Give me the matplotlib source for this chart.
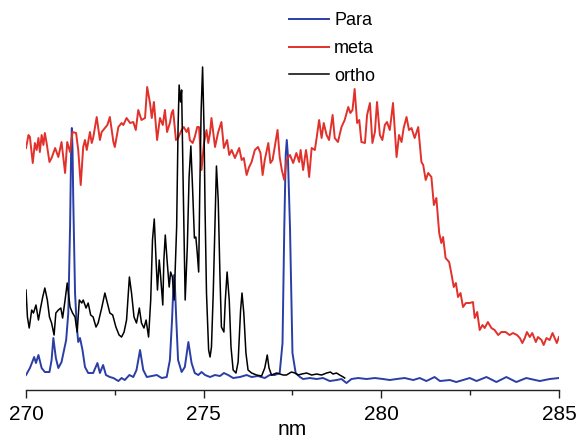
import numpy as np
import matplotlib
matplotlib.use('Agg')
import matplotlib.pyplot as plt
from matplotlib.ticker import MultipleLocator

plt.rcParams['font.family'] = ['Liberation Sans', 'DejaVu Sans']

# wavelength (nm) / intensity (a.u.)
para_nm = [270.00, 270.11, 270.23, 270.28, 270.35, 270.44, 270.53, 270.66, 270.72, 270.77, 270.84,
           270.91, 271.00, 271.13, 271.19, 271.24, 271.27, 271.29, 271.31, 271.33, 271.38, 271.43, 271.47,
           271.52, 271.59, 271.66, 271.75, 271.89, 272.01, 272.08, 272.17, 272.25, 272.36,
           272.46, 272.60, 272.69, 272.78, 272.91, 273.02, 273.11, 273.21, 273.30, 273.40,
           273.54, 273.68, 273.82, 273.96, 274.05, 274.11, 274.15, 274.17, 274.19, 274.23, 274.28, 274.38,
           274.47, 274.57, 274.66, 274.75, 274.85, 274.94, 275.04, 275.18, 275.32, 275.46,
           275.57, 275.69, 275.83, 276.02, 276.21, 276.35, 276.53, 276.72, 276.86, 277.00,
           277.14, 277.22, 277.27, 277.31, 277.34, 277.37, 277.43, 277.50, 277.59, 277.71, 277.80, 277.99,
           278.18, 278.36, 278.55, 278.74, 278.88, 279.02, 279.16, 279.35, 279.58, 279.82,
           280.05, 280.24, 280.43, 280.66, 280.90, 281.08, 281.27, 281.50, 281.65, 281.93,
           282.11, 282.49, 282.68, 282.96, 283.24, 283.52, 283.80, 284.08, 284.46, 284.74,
           285.00]
para_int = [15, 22, 33, 27, 35, 22, 18, 18, 30, 52, 32,
            22, 28, 50, 77, 163, 240, 262, 240, 190, 97, 63, 48,
            52, 40, 23, 17, 17, 27, 17, 25, 15, 13,
            12, 9, 12, 10, 15, 13, 20, 40, 20, 13,
            14, 15, 12, 13, 30, 70, 105, 115, 105, 70, 30, 18,
            23, 48, 27, 17, 15, 18, 15, 13, 15, 14,
            17, 15, 12, 13, 15, 13, 14, 12, 15, 15,
            17, 47, 163, 235, 250, 235, 163, 37, 17, 13, 11, 12,
            11, 12, 9, 10, 11, 7, 11, 12, 11, 12,
            11, 10, 11, 12, 10, 12, 9, 13, 9, 10,
            8, 12, 9, 13, 8, 13, 8, 12, 9, 11,
            12]

meta_nm = [270.00, 270.07, 270.11, 270.19, 270.25, 270.30, 270.35, 270.39, 270.44, 270.49,
           270.53, 270.58, 270.66, 270.72, 270.82, 270.91, 271.00, 271.10, 271.16, 271.24,
           271.31, 271.41, 271.47, 271.54, 271.61, 271.66, 271.71, 271.80, 271.85, 271.89,
           271.99, 272.08, 272.13, 272.22, 272.29, 272.36, 272.46, 272.50, 272.60, 272.69,
           272.74, 272.83, 272.93, 273.02, 273.09, 273.16, 273.25, 273.35, 273.41, 273.49,
           273.54, 273.60, 273.69, 273.77, 273.85, 273.91, 273.97, 274.05, 274.10, 274.14,
           274.22, 274.28, 274.38, 274.44, 274.52, 274.57, 274.61, 274.69, 274.75, 274.82,
           274.87, 274.94, 275.01, 275.08, 275.13, 275.18, 275.22, 275.32, 275.41, 275.50,
           275.57, 275.66, 275.72, 275.79, 275.88, 275.94, 276.00, 276.07, 276.13, 276.21,
           276.28, 276.35, 276.44, 276.53, 276.60, 276.66, 276.72, 276.82, 276.88, 276.94,
           277.00, 277.08, 277.14, 277.20, 277.27, 277.33, 277.43, 277.52, 277.61, 277.69,
           277.73, 277.80, 277.88, 277.91, 277.97, 278.04, 278.13, 278.18, 278.25, 278.32,
           278.38, 278.46, 278.53, 278.63, 278.69, 278.78, 278.88, 278.97, 279.07, 279.13,
           279.19, 279.25, 279.32, 279.38, 279.44, 279.54, 279.60, 279.68, 279.75, 279.82,
           279.88, 279.96, 280.03, 280.10, 280.16, 280.24, 280.33, 280.43, 280.50, 280.57,
           280.63, 280.71, 280.78, 280.85, 280.94, 281.04, 281.13, 281.18, 281.25, 281.32,
           281.41, 281.48, 281.55, 281.63, 281.69, 281.74, 281.81, 281.91, 281.97, 282.04,
           282.10, 282.16, 282.23, 282.30, 282.38, 282.49, 282.58, 282.63, 282.70, 282.77,
           282.85, 282.91, 283.00, 283.10, 283.19, 283.29, 283.38, 283.50, 283.61, 283.71,
           283.82, 283.90, 283.97, 284.04, 284.10, 284.18, 284.25, 284.35, 284.41, 284.51,
           284.57, 284.65, 284.74, 284.82, 284.88, 284.94, 285.00]
meta_int = [242, 255, 253, 227, 247, 240, 252, 238, 255, 245,
            257, 247, 228, 232, 242, 233, 248, 217, 248, 238,
            258, 257, 240, 205, 243, 250, 240, 258, 247, 252,
            273, 250, 258, 262, 265, 273, 248, 243, 263, 267,
            265, 272, 267, 268, 260, 280, 270, 272, 303, 287,
            272, 288, 250, 272, 265, 280, 258, 267, 277, 280,
            250, 252, 260, 263, 258, 262, 250, 247, 253, 263,
            263, 220, 247, 260, 247, 257, 272, 243, 258, 268,
            242, 250, 235, 240, 232, 237, 242, 230, 232, 215,
            223, 228, 240, 243, 237, 215, 230, 247, 227, 230,
            243, 260, 233, 220, 210, 230, 235, 227, 237, 228,
            240, 220, 240, 233, 213, 242, 240, 252, 270, 252,
            267, 255, 250, 275, 252, 248, 263, 270, 283, 277,
            280, 301, 267, 270, 248, 247, 275, 287, 247, 258,
            288, 255, 250, 265, 268, 260, 287, 233, 255, 248,
            262, 273, 260, 262, 252, 263, 228, 225, 210, 217,
            213, 185, 192, 157, 147, 153, 132, 128, 117, 103,
            107, 93, 97, 83, 87, 87, 88, 72, 78, 60,
            65, 62, 68, 62, 60, 55, 58, 58, 55, 57,
            55, 52, 47, 52, 58, 53, 57, 48, 53, 50,
            45, 52, 50, 57, 52, 47, 53]

ortho_nm = [270.00, 270.04, 270.09, 270.16, 270.21, 270.28, 270.35, 270.41, 270.47, 270.53,
            270.60, 270.66, 270.72, 270.79, 270.84, 270.91, 270.98, 271.03, 271.10, 271.16,
            271.24, 271.31, 271.38, 271.44, 271.50, 271.57, 271.61, 271.69, 271.75, 271.82,
            271.89, 271.97, 272.03, 272.13, 272.22, 272.29, 272.36, 272.44, 272.53, 272.62,
            272.69, 272.76, 272.83, 272.91, 272.97, 273.04, 273.11, 273.19, 273.25, 273.32,
            273.38, 273.45, 273.51, 273.56, 273.61, 273.66, 273.70, 273.75, 273.79, 273.85,
            273.88, 273.92, 273.97, 274.03, 274.07, 274.12, 274.17, 274.24, 274.28, 274.31,
            274.35, 274.38, 274.42, 274.48, 274.54, 274.59, 274.64, 274.69, 274.74, 274.78,
            274.82, 274.86, 274.89, 274.93, 274.97, 275.01, 275.04, 275.08, 275.14, 275.18,
            275.22, 275.27, 275.32, 275.36, 275.41, 275.46, 275.50, 275.57, 275.61, 275.66,
            275.72, 275.77, 275.83, 275.91, 275.97, 276.04, 276.08, 276.13, 276.19, 276.25,
            276.35, 276.49, 276.63, 276.72, 276.79, 276.84, 276.91, 277.05, 277.24, 277.33,
            277.47, 277.57, 277.66, 277.76, 277.90, 278.04, 278.18, 278.32, 278.46, 278.57,
            278.64, 278.74, 278.83, 278.93, 278.97]
ortho_int = [100, 73, 62, 80, 77, 85, 70, 82, 93, 102,
             90, 73, 67, 55, 77, 80, 82, 72, 90, 107,
             83, 77, 73, 58, 90, 87, 90, 82, 87, 75,
             73, 63, 67, 82, 97, 87, 77, 75, 63, 55,
             53, 58, 70, 113, 97, 73, 67, 82, 67, 62,
             70, 53, 90, 150, 171, 130, 100, 130, 113, 85,
             130, 155, 130, 103, 118, 113, 90, 163, 263, 305,
             288, 300, 213, 90, 143, 213, 244, 200, 152, 153,
             137, 118, 197, 280, 323, 263, 180, 97, 40, 33,
             43, 97, 170, 224, 190, 113, 63, 58, 90, 118,
             90, 43, 20, 17, 28, 80, 97, 77, 37, 20,
             17, 15, 14, 22, 35, 22, 15, 17, 15, 15,
             18, 17, 15, 16, 17, 15, 16, 15, 17, 18,
             16, 17, 15, 13, 12]

labels = ['Para', 'meta', 'ortho']

fig = plt.figure(figsize=(5.78, 4.41), dpi=100)
ax = fig.add_axes([0.045, 0.1156, 0.922, 0.8844])

ax.plot(para_nm, para_int, color='#2a3ea6', lw=1.4, label=labels[0])
ax.plot(meta_nm, meta_int, color='#e2302a', lw=1.4, label=labels[1])
ax.plot(ortho_nm, ortho_int, color='black', lw=1.1, label=labels[2])

ax.set_xlim(270, 285)
ax.set_ylim(0, 390)
ax.xaxis.set_major_locator(MultipleLocator(5))
ax.xaxis.set_minor_locator(MultipleLocator(2.5))
ax.tick_params(axis='x', which='major', direction='out', length=6, width=1.0,
               labelsize=15, pad=5, color='#222222')
ax.tick_params(axis='x', which='minor', direction='out', length=3.5, width=1.0,
               color='#222222')
ax.set_yticks([])
for s in ['left', 'right', 'top']:
    ax.spines[s].set_visible(False)
ax.spines['bottom'].set_color('#222222')
ax.spines['bottom'].set_linewidth(1.0)
ax.set_xlabel('nm', fontsize=15, labelpad=-3)

ax.legend(loc='upper left', bbox_to_anchor=(289 / 578, 1 - 12 / 441),
          bbox_transform=fig.transFigure, frameon=False, fontsize=13,
          handlelength=2.2, handletextpad=0.3, labelspacing=0.6,
          borderpad=0, borderaxespad=0)

fig.savefig('out.png', dpi=100)
